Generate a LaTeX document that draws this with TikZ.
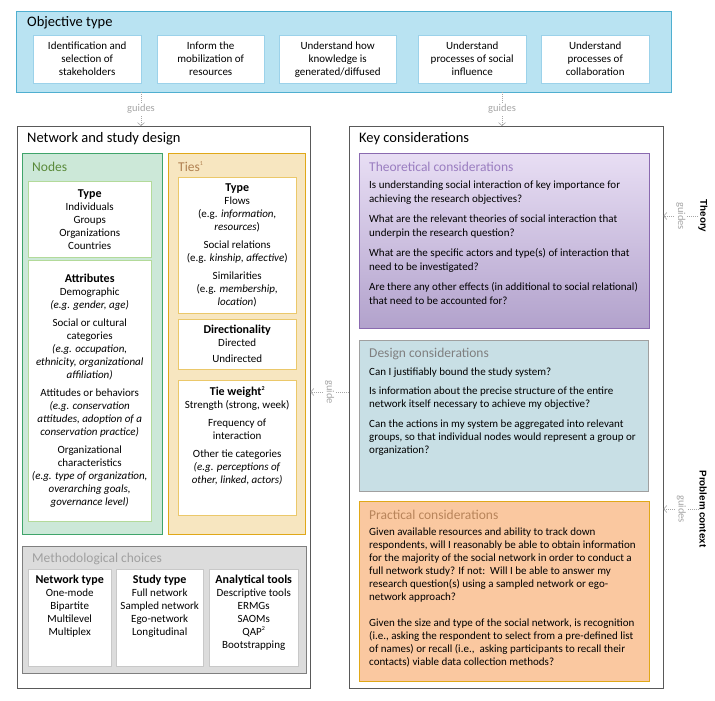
\documentclass[tikz,border=0pt]{standalone}
\usepackage{fontspec}
\setmainfont{Carlito}
\newfontfamily\sidefont{Liberation Sans}
\usepackage{xcolor}
\usepackage{tikz}
\usetikzlibrary{arrows.meta}

\definecolor{objfill}{HTML}{B9E3F2}
\definecolor{objline}{HTML}{4FAFD0}
\definecolor{objin}{HTML}{9CD2EA}
\definecolor{ndfill}{HTML}{CCE8D8}
\definecolor{ndline}{HTML}{3FA46A}
\definecolor{ndin}{HTML}{B3DA9A}
\definecolor{ndtitle}{HTML}{5A8A3A}
\definecolor{tifill}{HTML}{F7E6C0}
\definecolor{tiline}{HTML}{E0A818}
\definecolor{tiin}{HTML}{EBC86A}
\definecolor{tititle}{HTML}{B08050}
\definecolor{mcfill}{HTML}{DCDCDC}
\definecolor{mcline}{HTML}{7F7F7F}
\definecolor{mcin}{HTML}{C8C8C8}
\definecolor{mctitle}{HTML}{A0A0A0}
\definecolor{thtop}{HTML}{E8DEF4}
\definecolor{thbot}{HTML}{B2A2CC}
\definecolor{thline}{HTML}{8A6AB0}
\definecolor{thtitle}{HTML}{9A7DC0}
\definecolor{defill}{HTML}{C8DFE5}
\definecolor{deline}{HTML}{A0A0A0}
\definecolor{detitle}{HTML}{7F7F7F}
\definecolor{prfill}{HTML}{FAC8A0}
\definecolor{prline}{HTML}{E0A818}
\definecolor{prtitle}{HTML}{B8845A}
\definecolor{outline}{HTML}{595959}
\definecolor{guidegray}{HTML}{A6A6A6}

\newcommand{\hd}{\bfseries\fontsize{12}{13}\selectfont}
\newcommand{\supmark}[1]{\raisebox{0.9ex}{\fontsize{6}{6}\selectfont #1}}

\tikzset{
  sz/.style 2 args={minimum width=#1pt, minimum height=#2pt},
  panel/.style={draw, anchor=north west, inner sep=0pt},
  ibox/.style={draw, fill=white, anchor=north west, inner sep=0pt, align=center},
  ptitle/.style={anchor=west, inner sep=0pt, font=\fontsize{14.5}{16}\selectfont},
  stitle/.style={anchor=west, inner sep=0pt, font=\fontsize{13.5}{15}\selectfont},
  btext/.style={anchor=north, align=center, inner sep=0pt},
  qtext/.style={anchor=north west, align=left, inner sep=0pt},
  guide/.style={guidegray, line width=0.6pt, dash pattern=on 0.8pt off 1.2pt,
    -{Straight Barb[length=3pt,width=7pt,line width=0.6pt]}},
  glabel/.style={fill=white, inner sep=1pt, text=guidegray, font=\fontsize{10.5}{11}\selectfont},
  side/.style={inner sep=0pt, font=\sidefont\bfseries\fontsize{9.8}{12}\selectfont},
}

\begin{document}
\begin{tikzpicture}[x=1pt, y=-1pt, every node/.style={font=\fontsize{11}{13}\selectfont}]
\useasboundingbox (0,0) rectangle (715,701);

% objective type
\node[panel, draw=objline, fill=objfill, sz={655}{81}] (obj) at (16,11) {};
\node[ptitle] (objt) at (27,23) {Objective type};
\node[ibox, draw=objin, sz={108}{48}] (o1) at (33,35) {Identification and\\selection of\\stakeholders};
\node[ibox, draw=objin, sz={107}{48}] (o2) at (157,35) {Inform the\\mobilization of\\resources};
\node[ibox, draw=objin, sz={117}{48}] (o3) at (279,35) {Understand how\\knowledge is\\generated/diffused};
\node[ibox, draw=objin, sz={108}{48}] (o4) at (418,35) {Understand\\processes of social\\influence};
\node[ibox, draw=objin, sz={108}{48}] (o5) at (541,35) {Understand\\processes of\\collaboration};

% network and study design
\node[panel, draw=outline, fill=white, sz={293}{562}] (nsd) at (17,126) {};
\node[ptitle] (nsdt) at (27,139) {Network and study design};

\node[panel, draw=ndline, fill=ndfill, sz={140}{381}] (nd) at (22,153) {};
\node[stitle, text=ndtitle] (ndt) at (32,167) {Nodes};
\node[ibox, draw=ndin, sz={123}{76}] (ndtype) at (28,181) {{\hd Type}\\Individuals\\Groups\\Organizations\\Countries};
\node[ibox, draw=ndin, sz={123}{261}] (ndattr) at (28,260) {{\hd Attributes}\\Demographic\\\textit{(e.g. gender, age)}\\[5pt]Social or cultural\\categories\\\textit{(e.g. occupation,}\\\textit{ethnicity, organizational}\\\textit{affiliation)}\\[5pt]Attitudes or behaviors\\\textit{(e.g. conservation}\\\textit{attitudes, adoption of a}\\\textit{conservation practice)}\\[5pt]Organizational\\characteristics\\\textit{(e.g. type of organization,}\\\textit{overarching goals,}\\\textit{governance level)}};

\node[panel, draw=tiline, fill=tifill, sz={137}{381}] (ti) at (168,153) {};
\node[stitle, text=tititle] (tit) at (178,167) {Ties\supmark{1}};
\node[ibox, draw=tiin, sz={118}{136}] (titype) at (178,177) {{\hd Type}\\Flows\\(e.g. \textit{information,}\\\textit{resources})\\[5pt]Social relations\\(e.g. \textit{kinship, affective})\\[5pt]Similarities\\(e.g. \textit{membership,}\\\textit{location})};
\node[ibox, draw=tiin, sz={118}{50}] (tidir) at (178,319) {{\hd Directionality}\\Directed\\[3pt]Undirected};
\node[ibox, draw=tiin, sz={118}{135}] (tiwt) at (178,380) {};
\node[btext] (tiwtt) at ([yshift=-6pt]tiwt.north) {{\hd Tie weight\supmark{2}}\\Strength (strong, week)\\[5pt]Frequency of\\interaction\\[5pt]Other tie categories\\\textit{(e.g. perceptions of}\\\textit{other, linked, actors)}};

% methodological choices
\node[panel, draw=mcline, fill=mcfill, sz={284}{127}] (mc) at (22,546) {};
\node[stitle, text=mctitle] (mct) at (32,559) {Methodological choices};
\node[ibox, draw=mcin, sz={83}{97}] (mcnet) at (28,569) {};
\node[btext] (mcnett) at ([yshift=-6pt]mcnet.north) {{\hd Network type}\\One-mode\\Bipartite\\Multilevel\\Multiplex};
\node[ibox, draw=mcin, sz={87}{97}] (mcstudy) at (116,569) {};
\node[btext] (mcstudyt) at ([yshift=-6pt]mcstudy.north) {{\hd Study type}\\Full network\\Sampled network\\Ego-network\\Longitudinal};
\node[ibox, draw=mcin, sz={89}{97}] (mctool) at (209,569) {};
\node[btext] (mctoolt) at ([yshift=-6pt]mctool.north) {{\hd Analytical tools}\\Descriptive tools\\ERMGs\\SAOMs\\QAP\supmark{2}\\Bootstrapping};

% key considerations
\node[panel, draw=outline, fill=white, sz={314}{562}] (kc) at (349,126) {};
\node[ptitle] (kct) at (359,139) {Key considerations};

\node[panel, draw=thline, top color=thtop, bottom color=thbot, sz={290}{175}] (th) at (359,153) {};
\node[stitle, text=thtitle] (tht) at (369,167) {Theoretical considerations};
\node[qtext, font=\fontsize{11}{13.5}\selectfont] (thq) at (369,181) {Is understanding social interaction of key importance for\\achieving the research objectives?\\[7pt]What are the relevant theories of social interaction that\\underpin the research question?\\[7pt]What are the specific actors and type(s) of interaction that\\need to be investigated?\\[7pt]Are there any other effects (in additional to social relational)\\that need to be accounted for?};

\node[panel, draw=deline, fill=defill, sz={289}{151}] (de) at (359,340) {};
\node[stitle, text=detitle] (det) at (369,354) {Design considerations};
\node[qtext] (deq) at (369,368) {Can I justifiably bound the study system?\\[6pt]Is information about the precise structure of the entire\\network itself necessary to achieve my objective?\\[7pt]Can the actions in my system be aggregated into relevant\\groups, so that individual nodes would represent a group or\\organization?};

\node[panel, draw=prline, fill=prfill, sz={290}{180}] (pr) at (359,501) {};
\node[stitle, text=prtitle] (prt) at (369,515) {Practical considerations};
\node[qtext] (prq) at (369,528) {Given available resources and ability to track down\\respondents, will I reasonably be able to obtain information\\for the majority of the social network in order to conduct a\\full network study? If not:\ \ Will I be able to answer my\\research question(s) using a sampled network or ego-\\network approach?\\[13pt]Given the size and type of the social network, is recognition\\(i.e., asking the respondent to select from a pre-defined list\\of names) or recall (i.e.,\ \ asking participants to recall their\\contacts) viable data collection methods?};

% side labels
\node[side, rotate=-90] (thy) at (703,216) {Theory};
\node[side, rotate=-90] (pctx) at (703,509) {Problem context};

% guides
\coordinate (g1) at (141,0);
\coordinate (g2) at (502,0);
\coordinate (g3) at (0,392);
\draw[guide] (g1 |- obj.south) -- node[glabel]{guides} (g1 |- nsd.north);
\draw[guide] (g2 |- obj.south) -- node[glabel]{guides} (g2 |- kc.north);
\draw[guide] (g3 -| kc.west) -- node[glabel, rotate=-90]{guide} (g3 -| nsd.east);
\draw[guide] (thy.south) -- node[glabel, rotate=-90]{guides} (thy.south -| kc.east);
\draw[guide] (pctx.south) -- node[glabel, rotate=-90]{guides} (pctx.south -| kc.east);
\end{tikzpicture}
\end{document}
